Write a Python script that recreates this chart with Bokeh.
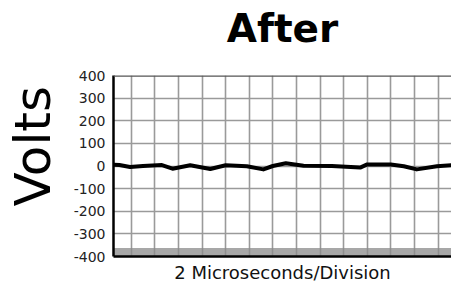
from bokeh.plotting import figure
from bokeh.models import FixedTicker, Span, BoxAnnotation, Range1d, Title
from bokeh.embed import file_html
from bokeh.resources import INLINE

# data: time in divisions (2 microseconds each), voltage in volts
time_div = [0.27, 0.5, 0.95, 1.5, 2.3, 2.75, 3.5, 4.35, 5.0, 5.9, 6.6, 7.0,
            7.55, 8.3, 9.5, 10.3, 10.7, 11.0, 12.0, 12.55, 13.1, 13.95, 14.6]
volts = [5, 4, -4, 0, 4, -12, 3, -13, 3, -1, -15, 0,
         12, 1, 0, -4, -7, 7, 7, -1, -15, -1, 4]
y_ticks = [-400, -300, -200, -100, 0, 100, 200, 300, 400]
y_tick_labels = ["-400", "-300", "-200", "-100", "0", "100", "200", "300", "400"]
x_grid = list(range(1, 15))

title_text = "After"
y_label = "Volts"
x_label = "2 Microseconds/Division"

W, H = 451, 285
p = figure(width=W, height=H, output_backend="svg", toolbar_location=None,
           title=title_text, x_range=Range1d(0.25, 14.57),
           y_range=Range1d(-400, 400),
           min_border_left=113, min_border_right=0, min_border_top=75,
           min_border_bottom=28)
p.outline_line_color = None
p.background_fill_color = "white"

# real title, with a spacer title between it and the frame
p.title.align = "center"
p.title.text_font = "DejaVu Sans"
p.title.text_font_style = "bold"
p.title.text_font_size = "39px"
p.title.text_color = "black"
p.title.standoff = 0
p.add_layout(Title(text=" ", text_font_size="10px", standoff=12), "above")

# grid
p.xgrid.ticker = FixedTicker(ticks=x_grid)
p.ygrid.ticker = FixedTicker(ticks=y_ticks)
for g in (p.xgrid, p.ygrid):
    g.grid_line_color = "#9a9a9a"
    g.grid_line_width = 1.6

# y axis
p.yaxis.ticker = FixedTicker(ticks=y_ticks)
p.yaxis.major_label_overrides = dict(zip(y_ticks, y_tick_labels))
p.yaxis.major_tick_out = 0
p.yaxis.major_tick_in = 0
p.yaxis.minor_tick_out = 0
p.yaxis.minor_tick_in = 0
p.yaxis.major_label_standoff = 8
p.yaxis.major_label_text_font = "DejaVu Sans"
p.yaxis.major_label_text_font_size = "14px"
p.yaxis.major_label_text_color = "#222222"
p.yaxis.axis_line_color = "black"
p.yaxis.axis_line_width = 2.5

# left: spacer then the "Volts" label
p.add_layout(Title(text=" ", text_font_size="7px", standoff=0), "left")
p.add_layout(Title(text=y_label, align="left", offset=50,
                   text_font="DejaVu Sans", text_font_style="normal",
                   text_font_size="50px", text_color="black", standoff=0),
             "left")

# x axis: border line and label only
p.xaxis.ticker = FixedTicker(ticks=[])
p.xaxis.major_tick_out = 0
p.xaxis.minor_tick_out = 0
p.xaxis.axis_line_color = "black"
p.xaxis.axis_line_width = 2.5
p.xaxis.axis_label = x_label
p.xaxis.axis_label_text_font = "DejaVu Sans"
p.xaxis.axis_label_text_font_style = "normal"
p.xaxis.axis_label_text_font_size = "18px"
p.xaxis.axis_label_text_color = "#111111"
p.xaxis.axis_label_standoff = 5

# grey band at the bottom
band = BoxAnnotation(top=-362, fill_color="#8a8a8a", fill_alpha=0.75,
                     line_color=None, level="underlay")
p.add_layout(band)
p.add_layout(Span(location=400, dimension="width", line_color="#555555",
                  line_width=2.5))

p.line(time_div, volts, line_color="black", line_width=4,
       line_join="round", line_cap="round")

open("out.html", "w").write(file_html(p, INLINE))
